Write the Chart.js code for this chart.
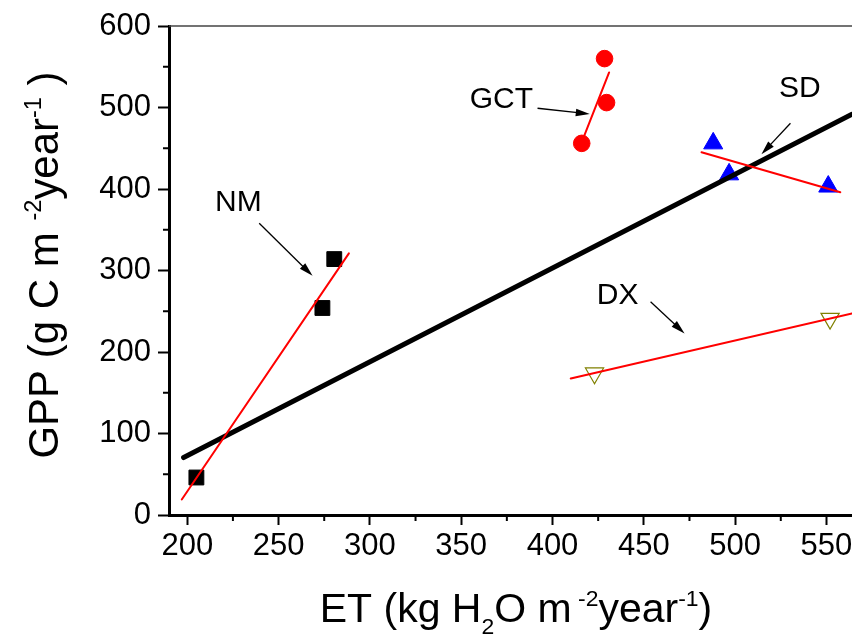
<!DOCTYPE html>
<html>
<head>
<meta charset="utf-8">
<script src="https://cdn.jsdelivr.net/npm/chart.js@4.4.1/dist/chart.umd.min.js"></script>
<style>
  html, body { margin: 0; padding: 0; background: #fff; }
  #wrap { width: 852px; height: 635px; position: relative; }
</style>
</head>
<body>
<div id="wrap"><canvas id="chart"></canvas></div>
<script>
// axis ticks
const xTicks = [200, 250, 300, 350, 400, 450, 500, 550];
const xMinor = [225, 275, 325, 375, 425, 475, 525];
const yTicks = [0, 100, 200, 300, 400, 500, 600];
const yMinor = [50, 150, 250, 350, 450, 550];

// sites: ET (x) vs GPP (y)
const nmET = [205, 274, 280.5];
const nmGPP = [46, 254, 314];
const gctET = [428.5, 429.6, 416];
const gctGPP = [560, 506, 456];
const sdET = [488, 496.7, 551];
const sdGPP = [456, 418, 403];
const dxET = [423, 552];
const dxGPP = [174, 241];

// fitted lines (end points)
const nmFitET = [197, 288.5];
const nmFitGPP = [19, 321];
const gctFitET = [417.3, 431];
const gctFitGPP = [465, 543];
const sdFitET = [481.6, 557.6];
const sdFitGPP = [445, 396];
const dxFitET = [410, 564];
const dxFitGPP = [167.5, 247.3];
const allFitET = [198, 564];
const allFitGPP = [70.5, 491.7];

const FONT = '"Liberation Sans", Arial, sans-serif';

function pts(xs, ys) {
    return xs.map((x, i) => ({ x: x, y: ys[i] }));
}

function fitLine(xs, ys, color, width, order) {
    return {
        data: pts(xs, ys),
        showLine: true,
        borderColor: color,
        borderWidth: width,
        borderCapStyle: 'round',
        pointRadius: 0,
        order: order
    };
}

// site labels, with arrow (data units)
const notes = [
    { text: 'NM',  at: [228, 383],   from: [239.4, 357.9], to: [268.6, 293.5] },
    { text: 'GCT', at: [372, 510],   from: [391.8, 499.1], to: [420.4, 492.1] },
    { text: 'SD',  at: [535.4, 523.6], from: [530.3, 480.7], to: [514.4, 442.6] },
    { text: 'DX',  at: [435.7, 268.8], from: [453.7, 261.6], to: [472.3, 222.8] }
];

const xTitle = [
    { t: 'ET (kg H' }, { t: '2', sub: true }, { t: 'O m' }, { t: ' -2', sup: true },
    { t: 'year' }, { t: '-1', sup: true }, { t: ')' }
];
const yTitle = [
    { t: 'GPP (g C m ' }, { t: '-2', sup: true }, { t: 'year' }, { t: '-1', sup: true }, { t: ' )' }
];

function drawRich(ctx, parts, size, cx, base) {
    let w = 0;
    parts.forEach(p => {
        ctx.font = ((p.sup || p.sub) ? size * 0.56 : size) + 'px ' + FONT;
        p.w = ctx.measureText(p.t).width;
        w += p.w;
    });
    let x = cx - w / 2;
    ctx.textAlign = 'left';
    ctx.textBaseline = 'alphabetic';
    parts.forEach(p => {
        ctx.font = ((p.sup || p.sub) ? size * 0.56 : size) + 'px ' + FONT;
        let y = base;
        if (p.sup) y = base - size * 0.4;
        if (p.sub) y = base + size * 0.29;
        ctx.fillText(p.t, x, y);
        x += p.w;
    });
}

function arrow(ctx, x1, y1, x2, y2) {
    const a = Math.atan2(y2 - y1, x2 - x1);
    const hl = 14, hw = 3.8;
    const c = Math.cos(a), s = Math.sin(a);
    ctx.beginPath();
    ctx.moveTo(x1, y1);
    ctx.lineTo(x2 - c * hl * 0.7, y2 - s * hl * 0.7);
    ctx.stroke();
    ctx.beginPath();
    ctx.moveTo(x2, y2);
    ctx.lineTo(x2 - c * hl + s * hw, y2 - s * hl - c * hw);
    ctx.lineTo(x2 - c * hl - s * hw, y2 - s * hl + c * hw);
    ctx.closePath();
    ctx.fill();
}

const decor = {
    id: 'decor',
    afterDraw(chart) {
        const ctx = chart.ctx;
        const xs = chart.scales.x, ys = chart.scales.y;
        const area = chart.chartArea;
        ctx.save();
        // top frame line
        ctx.strokeStyle = '#444';
        ctx.lineWidth = 1.3;
        ctx.beginPath();
        ctx.moveTo(area.left, area.top);
        ctx.lineTo(area.right, area.top);
        ctx.stroke();
        // minor ticks
        ctx.strokeStyle = '#000';
        ctx.lineWidth = 2;
        xMinor.forEach(v => {
            const px = xs.getPixelForValue(v);
            ctx.beginPath();
            ctx.moveTo(px, area.bottom);
            ctx.lineTo(px, area.bottom + 6);
            ctx.stroke();
        });
        yMinor.forEach(v => {
            const py = ys.getPixelForValue(v);
            ctx.beginPath();
            ctx.moveTo(area.left - 6, py);
            ctx.lineTo(area.left, py);
            ctx.stroke();
        });
        // site labels + arrows
        ctx.fillStyle = '#000';
        ctx.lineWidth = 1.3;
        ctx.font = '30px ' + FONT;
        ctx.textAlign = 'center';
        ctx.textBaseline = 'middle';
        notes.forEach(n => {
            ctx.fillText(n.text, xs.getPixelForValue(n.at[0]), ys.getPixelForValue(n.at[1]));
            arrow(ctx,
                xs.getPixelForValue(n.from[0]), ys.getPixelForValue(n.from[1]),
                xs.getPixelForValue(n.to[0]), ys.getPixelForValue(n.to[1]));
        });
        // axis titles
        drawRich(ctx, xTitle, 41, 516, 622);
        ctx.translate(58, 265);
        ctx.rotate(-Math.PI / 2);
        drawRich(ctx, yTitle, 42, 0, 0);
        ctx.restore();
    }
};

new Chart(document.getElementById('chart'), {
    type: 'scatter',
    data: {
        datasets: [
            fitLine(nmFitET, nmFitGPP, '#ff0000', 2, 0),
            fitLine(gctFitET, gctFitGPP, '#ff0000', 2, 0),
            fitLine(sdFitET, sdFitGPP, '#ff0000', 2, 0),
            fitLine(dxFitET, dxFitGPP, '#ff0000', 2, 0),
            fitLine(allFitET, allFitGPP, '#000000', 5, 1),
            {
                data: pts(nmET, nmGPP), pointStyle: 'rect', pointRadius: 10.5,
                backgroundColor: '#000', borderColor: '#000', borderWidth: 1, order: 2
            },
            {
                data: pts(gctET, gctGPP), pointStyle: 'circle', pointRadius: 8.3,
                backgroundColor: '#ff0000', borderColor: '#ff0000', borderWidth: 1, order: 2
            },
            {
                data: pts(sdET, sdGPP), pointStyle: 'triangle', pointRadius: 11,
                backgroundColor: '#0000ff', borderColor: '#0000ff', borderWidth: 1, order: 2
            },
            {
                data: pts(dxET, dxGPP), pointStyle: 'triangle', pointRadius: 10.5, rotation: 180,
                backgroundColor: 'rgba(0,0,0,0)', borderColor: '#808000', borderWidth: 1.2, order: 2
            }
        ]
    },
    options: {
        responsive: true,
        maintainAspectRatio: false,
        animation: false,
        layout: { autoPadding: false, padding: { top: 26, right: 0, left: 0, bottom: 0 } },
        plugins: { legend: { display: false }, tooltip: { enabled: false } },
        scales: {
            x: {
                type: 'linear', min: 190, max: 564,
                afterBuildTicks: s => { s.ticks = xTicks.map(v => ({ value: v })); },
                afterFit: s => { s.height = 120; s.paddingLeft = 0; s.paddingRight = 0; },
                grid: { drawOnChartArea: false, tickLength: 10, tickWidth: 2, tickColor: '#000' },
                border: { color: '#000', width: 3 },
                ticks: { color: '#000', font: { family: FONT, size: 31 }, padding: 3, maxRotation: 0, autoSkip: false }
            },
            y: {
                type: 'linear', min: 0, max: 600,
                afterBuildTicks: s => { s.ticks = yTicks.map(v => ({ value: v })); },
                afterFit: s => { s.width = 169; s.paddingTop = 0; s.paddingBottom = 0; },
                grid: { drawOnChartArea: false, tickLength: 11, tickWidth: 2, tickColor: '#000' },
                border: { color: '#000', width: 3 },
                ticks: { color: '#000', font: { family: FONT, size: 31 }, padding: 7, autoSkip: false }
            }
        }
    },
    plugins: [decor]
});
</script>
</body>
</html>
